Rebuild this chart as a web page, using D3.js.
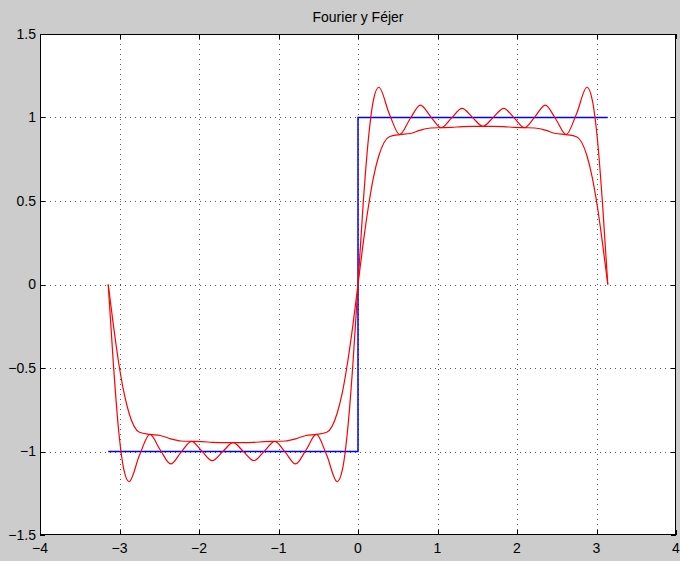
<!DOCTYPE html>
<html>
<head>
<meta charset="utf-8">
<script src="https://cdn.jsdelivr.net/npm/d3@7"></script>
<style>
  body { margin: 0; background: #cccccc; }
  svg { display: block; }
</style>
</head>
<body>
<div id="grafica"></div>
<script>
// ==============================
// DATOS
// ==============================

const xs = [
  -3.142, -3.076, -3.011, -2.945, -2.880, -2.749, -2.618, -2.487, -2.356, -2.225,
  -2.094, -1.963, -1.833, -1.702, -1.571, -1.440, -1.309, -1.178, -1.047, -0.916,
  -0.785, -0.654, -0.524, -0.393, -0.262, -0.196, -0.131, -0.065,
  0,
  0.065, 0.131, 0.196, 0.262, 0.393, 0.524, 0.654, 0.785, 0.916, 1.047,
  1.178, 1.309, 1.440, 1.571, 1.702, 1.833, 1.963, 2.094, 2.225, 2.356,
  2.487, 2.618, 2.749, 2.880, 2.945, 3.011, 3.076, 3.142
];

const fourier = [
  0, -0.483, -0.873, -1.109, -1.181, -1.023, -0.898, -0.991, -1.074, -1.004,
  -0.939, -0.998, -1.055, -1.001, -0.947, -1.001, -1.055, -0.998, -0.939, -1.004,
  -1.074, -0.991, -0.898, -1.023, -1.181, -1.109, -0.873, -0.483,
  0,
  0.483, 0.873, 1.109, 1.181, 1.023, 0.898, 0.991, 1.074, 1.004, 0.939,
  0.998, 1.055, 1.001, 0.947, 1.001, 1.055, 0.998, 0.939, 1.004, 1.074,
  0.991, 0.898, 1.023, 1.181, 1.109, 0.873, 0.483, 0
];

const fejer = [
  0, -0.246, -0.467, -0.645, -0.771, -0.885, -0.898, -0.904, -0.924, -0.937,
  -0.939, -0.941, -0.945, -0.947, -0.947, -0.947, -0.945, -0.941, -0.939, -0.937,
  -0.924, -0.904, -0.898, -0.885, -0.771, -0.645, -0.467, -0.246,
  0,
  0.246, 0.467, 0.645, 0.771, 0.885, 0.898, 0.904, 0.924, 0.937, 0.939,
  0.941, 0.945, 0.947, 0.947, 0.947, 0.945, 0.941, 0.939, 0.937, 0.924,
  0.904, 0.898, 0.885, 0.771, 0.645, 0.467, 0.246, 0
];

// onda cuadrada
const xCuadrada = [-3.142, 0, 0, 3.142];
const yCuadrada = [-1, -1, 1, 1];

const xTicks = [-4, -3, -2, -1, 0, 1, 2, 3, 4];
const yTicks = [-1.5, -1, -0.5, 0, 0.5, 1, 1.5];

// ==============================
// SVG Y ESCALAS
// ==============================

const W = 680, H = 561;
const margen = { left: 40, right: 4, top: 34, bottom: 26 };

const svg = d3.select("#grafica").append("svg")
  .attr("width", W)
  .attr("height", H)
  .style("font-family", "'Liberation Sans', Arial, sans-serif");

svg.append("rect").attr("width", W).attr("height", H).attr("fill", "#cccccc");

const x = d3.scaleLinear().domain([-4, 4]).range([margen.left, W - margen.right]);
const y = d3.scaleLinear().domain([-1.5, 1.5]).range([H - margen.bottom, margen.top]);

// fondo de los ejes
svg.append("rect")
  .attr("x", x(-4)).attr("y", y(1.5))
  .attr("width", x(4) - x(-4)).attr("height", y(-1.5) - y(1.5))
  .attr("fill", "#fff");

// ==============================
// REJILLA PUNTEADA
// ==============================

const rejilla = svg.append("g")
  .attr("stroke", "#333")
  .attr("stroke-width", 1)
  .attr("stroke-dasharray", "1,4")
  .attr("opacity", 0.8);

rejilla.selectAll("line.v")
  .data(xTicks.slice(1, -1))
  .join("line")
  .attr("class", "v")
  .attr("x1", d => Math.round(x(d)) + 0.5).attr("x2", d => Math.round(x(d)) + 0.5)
  .attr("y1", y(1.5)).attr("y2", y(-1.5));

rejilla.selectAll("line.h")
  .data(yTicks.slice(1, -1))
  .join("line")
  .attr("class", "h")
  .attr("y1", d => Math.round(y(d)) + 0.5).attr("y2", d => Math.round(y(d)) + 0.5)
  .attr("x1", x(-4)).attr("x2", x(4));

// ==============================
// CURVAS
// ==============================

const linea = d3.line()
  .x(d => x(d[0]))
  .y(d => y(d[1]));

svg.append("path")
  .datum(xCuadrada.map((v, i) => [v, yCuadrada[i]]))
  .attr("d", linea)
  .attr("fill", "none")
  .attr("stroke", "#0000ff")
  .attr("stroke-width", 1.5);

const curva = d3.line()
  .x(d => x(d[0]))
  .y(d => y(d[1]))
  .curve(d3.curveMonotoneX);

[fourier, fejer].forEach(serie => {
  svg.append("path")
    .datum(xs.map((v, i) => [v, serie[i]]))
    .attr("d", curva)
    .attr("fill", "none")
    .attr("stroke", "#ff0000")
    .attr("stroke-width", 1.2);
});

// ==============================
// EJES (caja estilo MATLAB)
// ==============================

const tickLen = 5;

const ejes = svg.append("g")
  .attr("fill", "none")
  .attr("stroke", "#000")
  .attr("stroke-width", 1);

ejes.append("rect")
  .attr("x", x(-4) + 0.5).attr("y", y(1.5) + 0.5)
  .attr("width", x(4) - x(-4) - 1).attr("height", y(-1.5) - y(1.5) - 1);

// marcas hacia dentro en los cuatro lados
xTicks.forEach(t => {
  const px = Math.round(x(t)) + 0.5;
  ejes.append("line").attr("x1", px).attr("x2", px)
    .attr("y1", y(-1.5)).attr("y2", y(-1.5) - tickLen);
  ejes.append("line").attr("x1", px).attr("x2", px)
    .attr("y1", y(1.5)).attr("y2", y(1.5) + tickLen);
});
yTicks.forEach(t => {
  const py = Math.round(y(t)) + 0.5;
  ejes.append("line").attr("y1", py).attr("y2", py)
    .attr("x1", x(-4)).attr("x2", x(-4) + tickLen);
  ejes.append("line").attr("y1", py).attr("y2", py)
    .attr("x1", x(4)).attr("x2", x(4) - tickLen);
});

const fmt = d3.format("");
const etiqueta = d => fmt(d).replace("-", "\u2212");

svg.append("g")
  .selectAll("text")
  .data(xTicks)
  .join("text")
  .attr("x", d => x(d))
  .attr("y", y(-1.5) + 18)
  .attr("text-anchor", "middle")
  .attr("font-size", 14)
  .text(etiqueta);

svg.append("g")
  .selectAll("text")
  .data(yTicks)
  .join("text")
  .attr("x", x(-4) - 4)
  .attr("y", d => y(d))
  .attr("dy", "0.35em")
  .attr("text-anchor", "end")
  .attr("font-size", 14)
  .text(etiqueta);

// título
svg.append("text")
  .attr("x", (x(-4) + x(4)) / 2)
  .attr("y", 22)
  .attr("text-anchor", "middle")
  .attr("font-size", 14)
  .text("Fourier y Féjer");
</script>
</body>
</html>
